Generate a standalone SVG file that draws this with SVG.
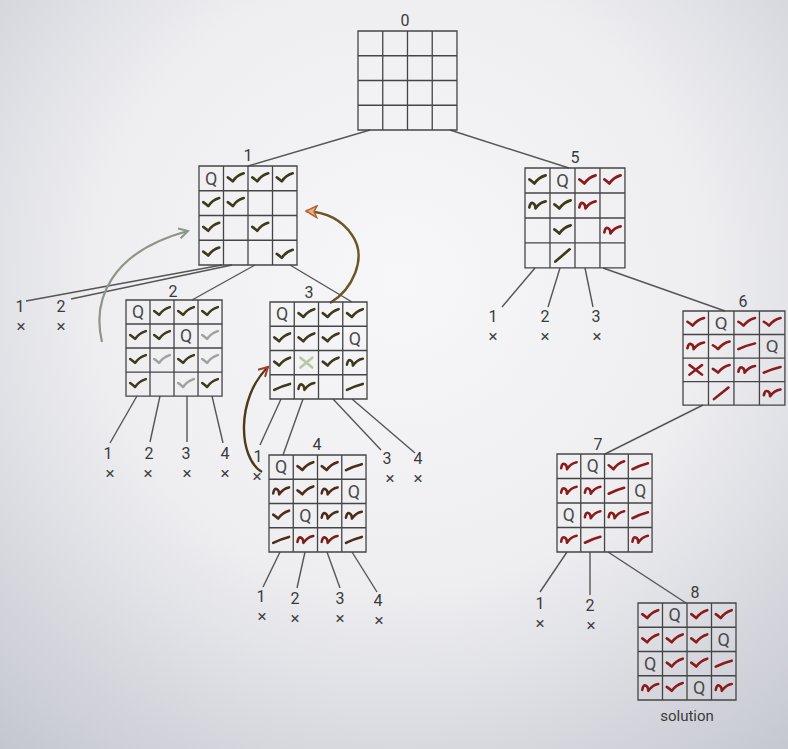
<svg xmlns="http://www.w3.org/2000/svg" xmlns:xlink="http://www.w3.org/1999/xlink" width="788" height="749" viewBox="0 0 788 749">
<style>
text{font-family:Roboto,"Liberation Sans",sans-serif;fill:#3a3a3a}
.lbl{font-size:16px;text-anchor:middle}
.x{font-size:17px;text-anchor:middle;fill:#444}
.q{font-size:18px;text-anchor:middle;fill:#4a4a4a}
.gl{fill:none;stroke:#454545;stroke-width:1.3;vector-effect:non-scaling-stroke}
.ed{fill:none;stroke:#555;stroke-width:1.4}
.m{fill:none;stroke-width:2.6;stroke-linecap:round;stroke-linejoin:round}
.k{stroke:#3d3a1c}
.lt{stroke:#9ea39b}
.gx{stroke:#b9c7a3}
.br{stroke:#4d2c18}
.rd{stroke:#8a1b1b}
</style>
<defs>
<radialGradient id="bg" cx="400" cy="280" r="620" gradientUnits="userSpaceOnUse">
<stop offset="0" stop-color="#f7f7f9"/>
<stop offset="0.5" stop-color="#eeeef1"/>
<stop offset="1" stop-color="#c4c6cf"/>
</radialGradient>
<g id="grid"><rect class="gl" x="0" y="0" width="98" height="98"/><path class="gl" d="M24.5,0V98M49,0V98M73.5,0V98M0,24.5H98M0,49H98M0,73.5H98"/></g>
<path id="c" d="M-8,-1 Q-5,1 -3,3 Q1,-3 8,-5"/>
<path id="s" d="M-8,2 Q-7,-4 -4,-2 Q-2,-1 -2,3 Q2,-3 8,-4"/>
<path id="d" d="M-8,3 Q0,-1 8,-3"/>
<path id="l" d="M-7,6 L7,-6"/>
<path id="xx" d="M-6,-5 L6,5 M6,-5 L-6,5"/>
<marker id="ag" viewBox="0 0 12 12" refX="10" refY="6" markerWidth="12" markerHeight="12" markerUnits="userSpaceOnUse" orient="auto"><path d="M1,1 L10,6 L1,11" fill="none" stroke="#8d9688" stroke-width="2"/></marker>
<marker id="ab" viewBox="0 0 14 14" refX="12" refY="7" markerWidth="14" markerHeight="14" markerUnits="userSpaceOnUse" orient="auto"><path d="M1,1 L12,7 L1,13 L4,7 Z" fill="#e8b08a" stroke="#b8622c" stroke-width="1.5"/></marker>
<marker id="ar" viewBox="0 0 12 12" refX="10" refY="6" markerWidth="12" markerHeight="12" markerUnits="userSpaceOnUse" orient="auto"><path d="M1,1 L10,6 L1,11" fill="none" stroke="#a83a26" stroke-width="2"/></marker>
</defs>
<rect width="788" height="749" fill="url(#bg)"/>

<g id="connectors">
<path class="ed" d="M370,130 L248,166"/>
<path class="ed" d="M450,130 L569,168"/>
<path class="ed" d="M222,265 L26,301"/>
<path class="ed" d="M232,265 L71,299"/>
<path class="ed" d="M255,265 L192,300"/>
<path class="ed" d="M290,265 L352,302"/>
<path class="ed" d="M137,396 L110,443"/>
<path class="ed" d="M160,396 L150,442"/>
<path class="ed" d="M187,396 L187,442"/>
<path class="ed" d="M212,396 L223,443"/>
<path class="ed" d="M281,399 L260,445"/>
<path class="ed" d="M303,399 L283,455"/>
<path class="ed" d="M333,399 L381,450"/>
<path class="ed" d="M352,399 L415,453"/>
<path class="ed" d="M280,552 L263,587"/>
<path class="ed" d="M305,552 L297,588"/>
<path class="ed" d="M327,552 L340,588"/>
<path class="ed" d="M352,552 L377,592"/>
<path class="ed" d="M535,268 L502,307"/>
<path class="ed" d="M560,268 L548,307"/>
<path class="ed" d="M585,268 L593,307"/>
<path class="ed" d="M603,268 L725,311"/>
<path class="ed" d="M703,405 L605,454"/>
<path class="ed" d="M567,552 L540,592"/>
<path class="ed" d="M590,552 L590,595"/>
<path class="ed" d="M608,552 L686,603"/>
<path d="M102,342 C92,300 110,252 188,231" fill="none" stroke="#8d9688" stroke-width="2.2" marker-end="url(#ag)"/>
<path d="M330,303 C352,290 368,258 352,235 C342,220 326,212 306,211" fill="none" stroke="#6b5628" stroke-width="2.4" marker-end="url(#ab)"/>
<path d="M262,472 C238,458 236,398 268,367" fill="none" stroke="#4d3a1a" stroke-width="2.4" marker-end="url(#ar)"/>
</g>

<g id="node-0">
<text class="lbl" x="405" y="26">0</text>
<g transform="translate(358,31) scale(1.01)"><use href="#grid"/></g>
</g>

<g id="node-1">
<text class="lbl" x="248" y="161">1</text>
<g transform="translate(199,166) scale(1,1.01)">
<use href="#grid"/>
<text class="q" x="12.25" y="18.5">Q</text>
<g class="m k">
<use href="#c" x="36.75" y="12.25"/><use href="#c" x="61.25" y="12.25"/><use href="#c" x="85.75" y="12.25"/>
<use href="#c" x="12.25" y="36.75"/><use href="#c" x="36.75" y="36.75"/>
<use href="#c" x="12.25" y="61.25"/><use href="#c" x="61.25" y="61.25"/>
<use href="#c" x="12.25" y="85.75"/><use href="#c" x="85.75" y="88"/>
</g></g>
</g>

<g id="node-2">
<text class="lbl" x="173" y="297">2</text>
<g transform="translate(126,300) scale(0.98)">
<use href="#grid"/>
<text class="q" x="12.25" y="18.5">Q</text><text class="q" x="61.25" y="43">Q</text>
<g class="m k">
<use href="#c" x="36.75" y="12.25"/><use href="#c" x="61.25" y="12.25"/><use href="#c" x="85.75" y="12.25"/>
<use href="#c" x="12.25" y="36.75"/><use href="#c" x="36.75" y="36.75"/>
<use href="#c" x="12.25" y="61.25"/><use href="#c" x="61.25" y="61.25"/>
<use href="#c" x="12.25" y="85.75"/><use href="#c" x="85.75" y="85.75"/>
</g>
<g class="m lt">
<use href="#c" x="85.75" y="36.75"/><use href="#c" x="36.75" y="61.25"/><use href="#c" x="85.75" y="61.25"/><use href="#c" x="61.25" y="85.75"/>
</g></g>
</g>

<g id="node-3">
<text class="lbl" x="309" y="298">3</text>
<g transform="translate(270,302) scale(0.99)">
<use href="#grid"/>
<text class="q" x="12.25" y="18.5">Q</text><text class="q" x="85.75" y="43">Q</text>
<g class="m k">
<use href="#c" x="36.75" y="12.25"/><use href="#c" x="61.25" y="12.25"/><use href="#c" x="85.75" y="12.25"/>
<use href="#c" x="12.25" y="36.75"/><use href="#c" x="36.75" y="36.75"/><use href="#c" x="61.25" y="36.75"/>
<use href="#c" x="12.25" y="61.25"/><use href="#c" x="61.25" y="61.25"/><use href="#s" x="85.75" y="61.25"/>
<use href="#d" x="12.25" y="85.75"/><use href="#s" x="36.75" y="85.75"/><use href="#d" x="85.75" y="85.75"/>
</g>
<g class="m gx"><use href="#xx" x="36.75" y="61.25"/></g>
</g>
</g>

<g id="node-4">
<text class="lbl" x="317" y="450">4</text>
<g transform="translate(269,455) scale(0.99)">
<use href="#grid"/>
<text class="q" x="12.25" y="18.5">Q</text><text class="q" x="85.75" y="43">Q</text><text class="q" x="36.75" y="67.5">Q</text>
<g class="m br">
<use href="#c" x="36.75" y="12.25"/><use href="#c" x="61.25" y="12.25"/><use href="#d" x="85.75" y="12.25"/>
<use href="#s" x="12.25" y="36.75"/><use href="#c" x="36.75" y="36.75"/><use href="#s" x="61.25" y="36.75"/>
<use href="#c" x="12.25" y="61.25"/><use href="#s" x="61.25" y="61.25"/><use href="#s" x="85.75" y="61.25"/>
<use href="#d" x="12.25" y="85.75"/><use href="#d" x="85.75" y="85.75"/>
</g>
<g class="m" style="stroke:#7a1f16"><use href="#s" x="36.75" y="85.75"/><use href="#s" x="61.25" y="85.75"/></g>
</g>
</g>

<g id="node-5">
<text class="lbl" x="575" y="163">5</text>
<g transform="translate(525,168) scale(1.02)">
<use href="#grid"/>
<text class="q" x="36.75" y="18.5">Q</text>
<g class="m k">
<use href="#c" x="12.25" y="12.25"/><use href="#s" x="12.25" y="36.75"/><use href="#c" x="36.75" y="36.75"/>
<use href="#c" x="36.75" y="61.25"/><use href="#l" x="36.75" y="85.75"/>
</g>
<g class="m rd">
<use href="#c" x="61.25" y="12.25"/><use href="#c" x="85.75" y="12.25"/><use href="#s" x="61.25" y="36.75"/><use href="#s" x="85.75" y="61.25"/>
</g></g>
</g>

<g id="node-6">
<text class="lbl" x="743" y="307">6</text>
<g transform="translate(683,311) scale(1.04,0.96)">
<use href="#grid"/>
<text class="q" x="36.75" y="18.5">Q</text><text class="q" x="85.75" y="43">Q</text>
<g class="m rd">
<use href="#c" x="12.25" y="12.25"/><use href="#c" x="61.25" y="12.25"/><use href="#c" x="85.75" y="12.25"/>
<use href="#s" x="12.25" y="36.75"/><use href="#c" x="36.75" y="36.75"/><use href="#d" x="61.25" y="36.75"/>
<use href="#xx" x="12.25" y="61.25"/><use href="#c" x="36.75" y="61.25"/><use href="#s" x="61.25" y="61.25"/><use href="#d" x="85.75" y="61.25"/>
<use href="#l" x="36.75" y="85.75"/><use href="#s" x="85.75" y="85.75"/>
</g></g>
</g>

<g id="node-7">
<text class="lbl" x="598" y="450">7</text>
<g transform="translate(557,454) scale(0.97,1)">
<use href="#grid"/>
<text class="q" x="36.75" y="18.5">Q</text><text class="q" x="85.75" y="43">Q</text><text class="q" x="12.25" y="67.5">Q</text>
<g class="m rd">
<use href="#s" x="12.25" y="12.25"/><use href="#c" x="61.25" y="12.25"/><use href="#d" x="85.75" y="12.25"/>
<use href="#s" x="12.25" y="36.75"/><use href="#s" x="36.75" y="36.75"/><use href="#d" x="61.25" y="36.75"/>
<use href="#s" x="36.75" y="61.25"/><use href="#s" x="61.25" y="61.25"/><use href="#d" x="85.75" y="61.25"/>
<use href="#s" x="12.25" y="85.75"/><use href="#d" x="36.75" y="85.75"/><use href="#s" x="85.75" y="85.75"/>
</g></g>
</g>

<g id="node-8">
<text class="lbl" x="695" y="598">8</text>
<g transform="translate(638,603) scale(1,0.99)">
<use href="#grid"/>
<text class="q" x="36.75" y="18.5">Q</text><text class="q" x="85.75" y="43">Q</text><text class="q" x="12.25" y="67.5">Q</text><text class="q" x="61.25" y="92">Q</text>
<g class="m rd">
<use href="#c" x="12.25" y="12.25"/><use href="#c" x="61.25" y="12.25"/><use href="#c" x="85.75" y="12.25"/>
<use href="#c" x="12.25" y="36.75"/><use href="#c" x="36.75" y="36.75"/><use href="#c" x="61.25" y="36.75"/>
<use href="#c" x="36.75" y="61.25"/><use href="#c" x="61.25" y="61.25"/><use href="#d" x="85.75" y="61.25"/>
<use href="#s" x="12.25" y="85.75"/><use href="#c" x="36.75" y="85.75"/><use href="#s" x="85.75" y="85.75"/>
</g></g>
<text x="687" y="721" style="font-size:15px;text-anchor:middle">solution</text>
</g>

<g id="leaf-1-1"><text class="lbl" x="20" y="312">1</text><text class="x" x="21" y="332">×</text></g>
<g id="leaf-1-2"><text class="lbl" x="61" y="312">2</text><text class="x" x="61" y="332">×</text></g>
<g id="leaf-2-1"><text class="lbl" x="108" y="459">1</text><text class="x" x="110" y="479">×</text></g>
<g id="leaf-2-2"><text class="lbl" x="149" y="459">2</text><text class="x" x="148" y="479">×</text></g>
<g id="leaf-2-3"><text class="lbl" x="186" y="459">3</text><text class="x" x="187" y="479">×</text></g>
<g id="leaf-2-4"><text class="lbl" x="225" y="459">4</text><text class="x" x="225" y="479">×</text></g>
<g id="leaf-3-1"><text class="lbl" x="258" y="462">1</text><text class="x" x="257" y="482">×</text></g>
<g id="leaf-3-3"><text class="lbl" x="387" y="464">3</text><text class="x" x="390" y="484">×</text></g>
<g id="leaf-3-4"><text class="lbl" x="418" y="464">4</text><text class="x" x="418" y="484">×</text></g>
<g id="leaf-4-1"><text class="lbl" x="261" y="602">1</text><text class="x" x="262" y="622">×</text></g>
<g id="leaf-4-2"><text class="lbl" x="295" y="604">2</text><text class="x" x="295" y="624">×</text></g>
<g id="leaf-4-3"><text class="lbl" x="340" y="604">3</text><text class="x" x="340" y="624">×</text></g>
<g id="leaf-4-4"><text class="lbl" x="378" y="606">4</text><text class="x" x="379" y="626">×</text></g>
<g id="leaf-5-1"><text class="lbl" x="493" y="322">1</text><text class="x" x="493" y="342">×</text></g>
<g id="leaf-5-2"><text class="lbl" x="545" y="322">2</text><text class="x" x="545" y="342">×</text></g>
<g id="leaf-5-3"><text class="lbl" x="596" y="322">3</text><text class="x" x="597" y="342">×</text></g>
<g id="leaf-7-1"><text class="lbl" x="540" y="609">1</text><text class="x" x="540" y="629">×</text></g>
<g id="leaf-7-2"><text class="lbl" x="590" y="611">2</text><text class="x" x="591" y="631">×</text></g>
</svg>
